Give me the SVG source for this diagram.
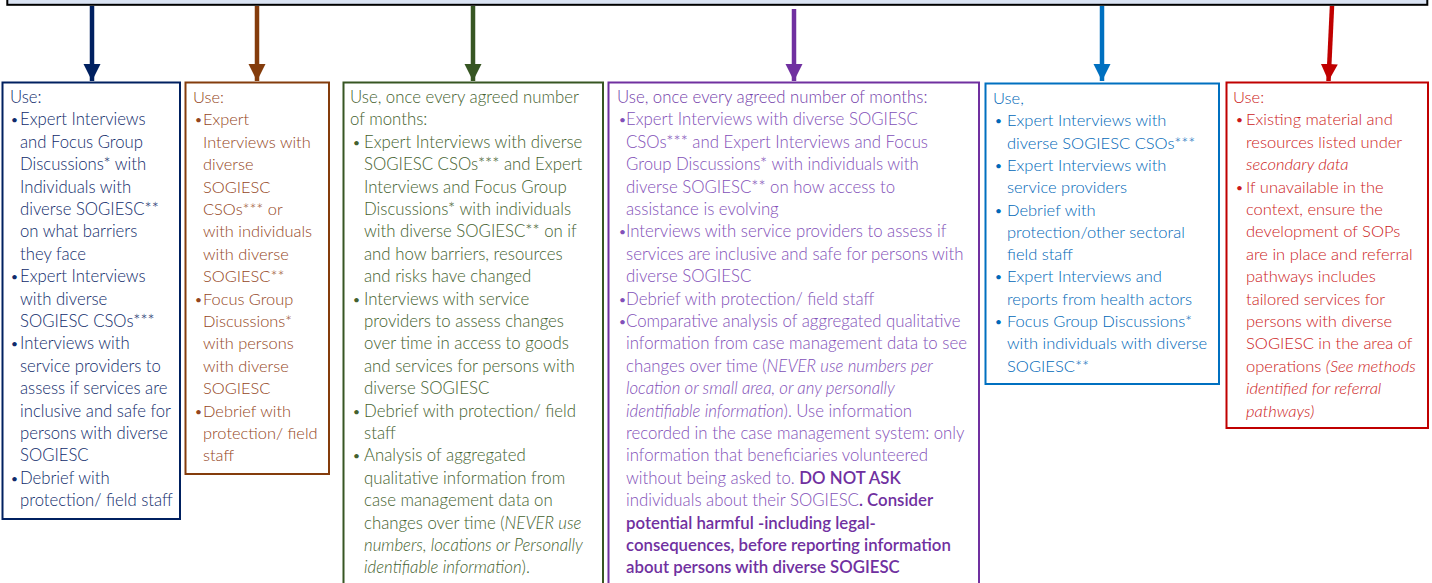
<svg xmlns="http://www.w3.org/2000/svg" width="1432" height="583" viewBox="0 0 1432 583">
<style>
  text { font-family: Lato, "Open Sans", "Liberation Sans", sans-serif; font-size: 16.7px; font-weight: 300; }
  .box { fill: #ffffff; stroke-width: 2; }
  .i { font-style: italic; }
  .b { font-weight: 600; fill: #7030A0; }
  .bu { font-size: 12px; font-weight: 400; }
  .navy { fill: #0F2B6B; } .brown { fill: #94461C; font-size: 16.4px; } .green { fill: #44612E; font-size: 16.8px; }
  .purple { fill: #8250B8; font-size: 16.8px; } .blue { fill: #0068B8; font-size: 16.5px; } .red { fill: #CC1A1A; font-size: 16.5px; }
</style>
<defs>
  <marker id="mNavy" markerUnits="userSpaceOnUse" markerWidth="18" markerHeight="18" refX="17" refY="9" orient="auto"><path d="M0,0.5 L17,9 L0,17.5 Z" fill="#002060"/></marker>
  <marker id="mBrown" markerUnits="userSpaceOnUse" markerWidth="18" markerHeight="18" refX="17" refY="9" orient="auto"><path d="M0,0.5 L17,9 L0,17.5 Z" fill="#843C0C"/></marker>
  <marker id="mGreen" markerUnits="userSpaceOnUse" markerWidth="18" markerHeight="18" refX="17" refY="9" orient="auto"><path d="M0,0.5 L17,9 L0,17.5 Z" fill="#375623"/></marker>
  <marker id="mPurple" markerUnits="userSpaceOnUse" markerWidth="18" markerHeight="18" refX="17" refY="9" orient="auto"><path d="M0,0.5 L17,9 L0,17.5 Z" fill="#7030A0"/></marker>
  <marker id="mBlue" markerUnits="userSpaceOnUse" markerWidth="18" markerHeight="18" refX="17" refY="9" orient="auto"><path d="M0,0.5 L17,9 L0,17.5 Z" fill="#0070C0"/></marker>
  <marker id="mRed" markerUnits="userSpaceOnUse" markerWidth="18" markerHeight="18" refX="17" refY="9" orient="auto"><path d="M0,0.5 L17,9 L0,17.5 Z" fill="#C00000"/></marker>
</defs>
<rect width="1432" height="583" fill="#ffffff"/>

<g id="top-box">
  <rect x="7.3" y="-20" width="1420" height="24.8" fill="#DAE3F3" stroke="#000000" stroke-width="2"/>
</g>

<g id="connectors" stroke-width="4.5" fill="none">
  <line x1="92" y1="6" x2="92" y2="81" stroke="#002060" marker-end="url(#mNavy)"/>
  <line x1="257" y1="6" x2="257" y2="81" stroke="#843C0C" marker-end="url(#mBrown)"/>
  <line x1="473" y1="6" x2="473" y2="81" stroke="#375623" marker-end="url(#mGreen)"/>
  <line x1="794" y1="9" x2="794" y2="81" stroke="#7030A0" marker-end="url(#mPurple)"/>
  <line x1="1102" y1="6" x2="1102" y2="81" stroke="#0070C0" marker-end="url(#mBlue)"/>
  <line x1="1332" y1="6" x2="1328.5" y2="81" stroke="#C00000" marker-end="url(#mRed)"/>
</g>

<g id="box-navy">
  <rect class="box" x="2.5" y="82.5" width="177.5" height="436.5" stroke="#002060"/>
  <text class="navy">
    <tspan x="10" y="103">Use:</tspan>
    <tspan x="11" y="124.4" class="bu">•</tspan><tspan x="20" y="125.4">Expert Interviews</tspan>
    <tspan x="20" y="147.8">and Focus Group</tspan>
    <tspan x="20" y="170.2">Discussions* with</tspan>
    <tspan x="20" y="192.6">Individuals with</tspan>
    <tspan x="20" y="215">diverse SOGIESC**</tspan>
    <tspan x="20" y="237.4">on what barriers</tspan>
    <tspan x="20" y="259.8">they face</tspan>
    <tspan x="11" y="281.2" class="bu">•</tspan><tspan x="20" y="282.2">Expert Interviews</tspan>
    <tspan x="20" y="304.6">with diverse</tspan>
    <tspan x="20" y="327">SOGIESC CSOs***</tspan>
    <tspan x="11" y="348.4" class="bu">•</tspan><tspan x="20" y="349.4">Interviews with</tspan>
    <tspan x="20" y="371.8">service providers to</tspan>
    <tspan x="20" y="394.2">assess if services are</tspan>
    <tspan x="20" y="416.6">inclusive and safe for</tspan>
    <tspan x="20" y="439">persons with diverse</tspan>
    <tspan x="20" y="461.4">SOGIESC</tspan>
    <tspan x="11" y="482.8" class="bu">•</tspan><tspan x="20" y="483.8">Debrief with</tspan>
    <tspan x="20" y="506.2">protection/ field staff</tspan>
  </text>
</g>

<g id="box-brown">
  <rect class="box" x="185.5" y="82.5" width="143.5" height="391.5" stroke="#843C0C"/>
  <text class="brown">
    <tspan x="193" y="103">Use:</tspan>
    <tspan x="195" y="124.4" class="bu">•</tspan><tspan x="203" y="125.4">Expert</tspan>
    <tspan x="203" y="147.8">Interviews with</tspan>
    <tspan x="203" y="170.2">diverse</tspan>
    <tspan x="203" y="192.6">SOGIESC</tspan>
    <tspan x="203" y="215">CSOs*** or</tspan>
    <tspan x="203" y="237.4">with individuals</tspan>
    <tspan x="203" y="259.8">with diverse</tspan>
    <tspan x="203" y="282.2">SOGIESC**</tspan>
    <tspan x="195" y="303.6" class="bu">•</tspan><tspan x="203" y="304.6">Focus Group</tspan>
    <tspan x="203" y="327">Discussions*</tspan>
    <tspan x="203" y="349.4">with persons</tspan>
    <tspan x="203" y="371.8">with diverse</tspan>
    <tspan x="203" y="394.2">SOGIESC</tspan>
    <tspan x="195" y="415.6" class="bu">•</tspan><tspan x="203" y="416.6">Debrief with</tspan>
    <tspan x="203" y="439">protection/ field</tspan>
    <tspan x="203" y="461.4">staff</tspan>
  </text>
</g>

<g id="box-green">
  <rect class="box" x="343.5" y="82.5" width="259.5" height="520" stroke="#375623"/>
  <text class="green">
    <tspan x="350" y="103">Use, once every agreed number</tspan>
    <tspan x="350" y="125.4">of  months:</tspan>
    <tspan x="353" y="146.8" class="bu">•</tspan><tspan x="364" y="147.8">Expert Interviews with diverse</tspan>
    <tspan x="364" y="170.2">SOGIESC CSOs*** and Expert</tspan>
    <tspan x="364" y="192.6">Interviews and Focus Group</tspan>
    <tspan x="364" y="215">Discussions* with individuals</tspan>
    <tspan x="364" y="237.4">with diverse SOGIESC** on if</tspan>
    <tspan x="364" y="259.8">and how barriers, resources</tspan>
    <tspan x="364" y="282.2">and risks have changed</tspan>
    <tspan x="353" y="303.6" class="bu">•</tspan><tspan x="364" y="304.6">Interviews with service</tspan>
    <tspan x="364" y="327">providers to assess changes</tspan>
    <tspan x="364" y="349.4">over time in access to goods</tspan>
    <tspan x="364" y="371.8">and services for persons with</tspan>
    <tspan x="364" y="394.2">diverse SOGIESC</tspan>
    <tspan x="353" y="415.6" class="bu">•</tspan><tspan x="364" y="416.6">Debrief with protection/ field</tspan>
    <tspan x="364" y="439">staff</tspan>
    <tspan x="353" y="460.4" class="bu">•</tspan><tspan x="364" y="461.4">Analysis of aggregated</tspan>
    <tspan x="364" y="483.8">qualitative information from</tspan>
    <tspan x="364" y="506.2">case management data on</tspan>
    <tspan x="364" y="528.6">changes over time (<tspan class="i">NEVER use</tspan></tspan>
    <tspan x="364" y="551" class="i">numbers, locations or Personally</tspan>
    <tspan x="364" y="573.4"><tspan class="i">identifiable information</tspan>).</tspan>
  </text>
</g>

<g id="box-purple">
  <rect class="box" x="608.5" y="82.5" width="370.5" height="520" stroke="#7030A0"/>
  <text class="purple">
    <tspan x="617" y="103" fill="#7440AA">Use, once every agreed number of  months:</tspan>
    <tspan x="619" y="124.4" class="bu">•</tspan><tspan x="626" y="125.4">Expert Interviews with diverse SOGIESC</tspan>
    <tspan x="626" y="147.8">CSOs*** and Expert Interviews and Focus</tspan>
    <tspan x="626" y="170.2">Group Discussions* with individuals with</tspan>
    <tspan x="626" y="192.6">diverse SOGIESC** on how access to</tspan>
    <tspan x="626" y="215">assistance is evolving</tspan>
    <tspan x="619" y="236.4" class="bu">•</tspan><tspan x="626" y="237.4">Interviews with service providers to assess if</tspan>
    <tspan x="626" y="259.8">services are inclusive and safe for persons with</tspan>
    <tspan x="626" y="282.2">diverse SOGIESC</tspan>
    <tspan x="619" y="303.6" class="bu">•</tspan><tspan x="626" y="304.6">Debrief with protection/ field staff</tspan>
    <tspan x="619" y="326" class="bu">•</tspan><tspan x="626" y="327">Comparative analysis of aggregated qualitative</tspan>
    <tspan x="626" y="349.4">information from case management data to see</tspan>
    <tspan x="626" y="371.8">changes over time (<tspan class="i">NEVER use numbers per</tspan></tspan>
    <tspan x="626" y="394.2" class="i">location or small area, or any personally</tspan>
    <tspan x="626" y="416.6"><tspan class="i">identifiable information</tspan>). Use information</tspan>
    <tspan x="626" y="439">recorded in the case management system: only</tspan>
    <tspan x="626" y="461.4">information that beneficiaries volunteered</tspan>
    <tspan x="626" y="483.8">without being asked to. <tspan class="b">DO NOT ASK</tspan></tspan>
    <tspan x="626" y="506.2">individuals about their SOGIESC<tspan class="b">. Consider</tspan></tspan>
    <tspan x="626" y="528.6" class="b">potential harmful -including legal-</tspan>
    <tspan x="626" y="551" class="b">consequences, before reporting information</tspan>
    <tspan x="626" y="573.4" class="b">about persons with diverse SOGIESC</tspan>
  </text>
</g>

<g id="box-blue">
  <rect class="box" x="985.5" y="83.5" width="233.5" height="300.5" stroke="#0070C0"/>
  <text class="blue">
    <tspan x="993" y="104">Use,</tspan>
    <tspan x="995" y="125.3" class="bu">•</tspan><tspan x="1007" y="126.3">Expert Interviews with</tspan>
    <tspan x="1007" y="148.6">diverse SOGIESC CSOs***</tspan>
    <tspan x="995" y="169.9" class="bu">•</tspan><tspan x="1007" y="170.9">Expert Interviews with</tspan>
    <tspan x="1007" y="193.2">service providers</tspan>
    <tspan x="995" y="214.5" class="bu">•</tspan><tspan x="1007" y="215.5">Debrief with</tspan>
    <tspan x="1007" y="237.8">protection/other sectoral</tspan>
    <tspan x="1007" y="260.1">field staff</tspan>
    <tspan x="995" y="281.4" class="bu">•</tspan><tspan x="1007" y="282.4">Expert Interviews and</tspan>
    <tspan x="1007" y="304.7">reports from health actors</tspan>
    <tspan x="995" y="326" class="bu">•</tspan><tspan x="1007" y="327">Focus Group Discussions*</tspan>
    <tspan x="1007" y="349.3">with individuals with diverse</tspan>
    <tspan x="1007" y="371.6">SOGIESC**</tspan>
  </text>
</g>

<g id="box-red">
  <rect class="box" x="1226.5" y="82.5" width="201.5" height="345.5" stroke="#C00000"/>
  <text class="red">
    <tspan x="1233" y="103">Use:</tspan>
    <tspan x="1236" y="124.4" class="bu">•</tspan><tspan x="1246" y="125.4">Existing material and</tspan>
    <tspan x="1246" y="147.8">resources listed under</tspan>
    <tspan x="1246" y="170.2" class="i">secondary data</tspan>
    <tspan x="1236" y="191.6" class="bu">•</tspan><tspan x="1246" y="192.6">If unavailable in the</tspan>
    <tspan x="1246" y="215">context, ensure the</tspan>
    <tspan x="1246" y="237.4">development of SOPs</tspan>
    <tspan x="1246" y="259.8">are in place and referral</tspan>
    <tspan x="1246" y="282.2">pathways includes</tspan>
    <tspan x="1246" y="304.6">tailored services for</tspan>
    <tspan x="1246" y="327">persons with diverse</tspan>
    <tspan x="1246" y="349.4">SOGIESC in the area of</tspan>
    <tspan x="1246" y="371.8">operations <tspan class="i">(See methods</tspan></tspan>
    <tspan x="1246" y="394.2" class="i">identified for referral</tspan>
    <tspan x="1246" y="416.6" class="i">pathways)</tspan>
  </text>
</g>
</svg>
